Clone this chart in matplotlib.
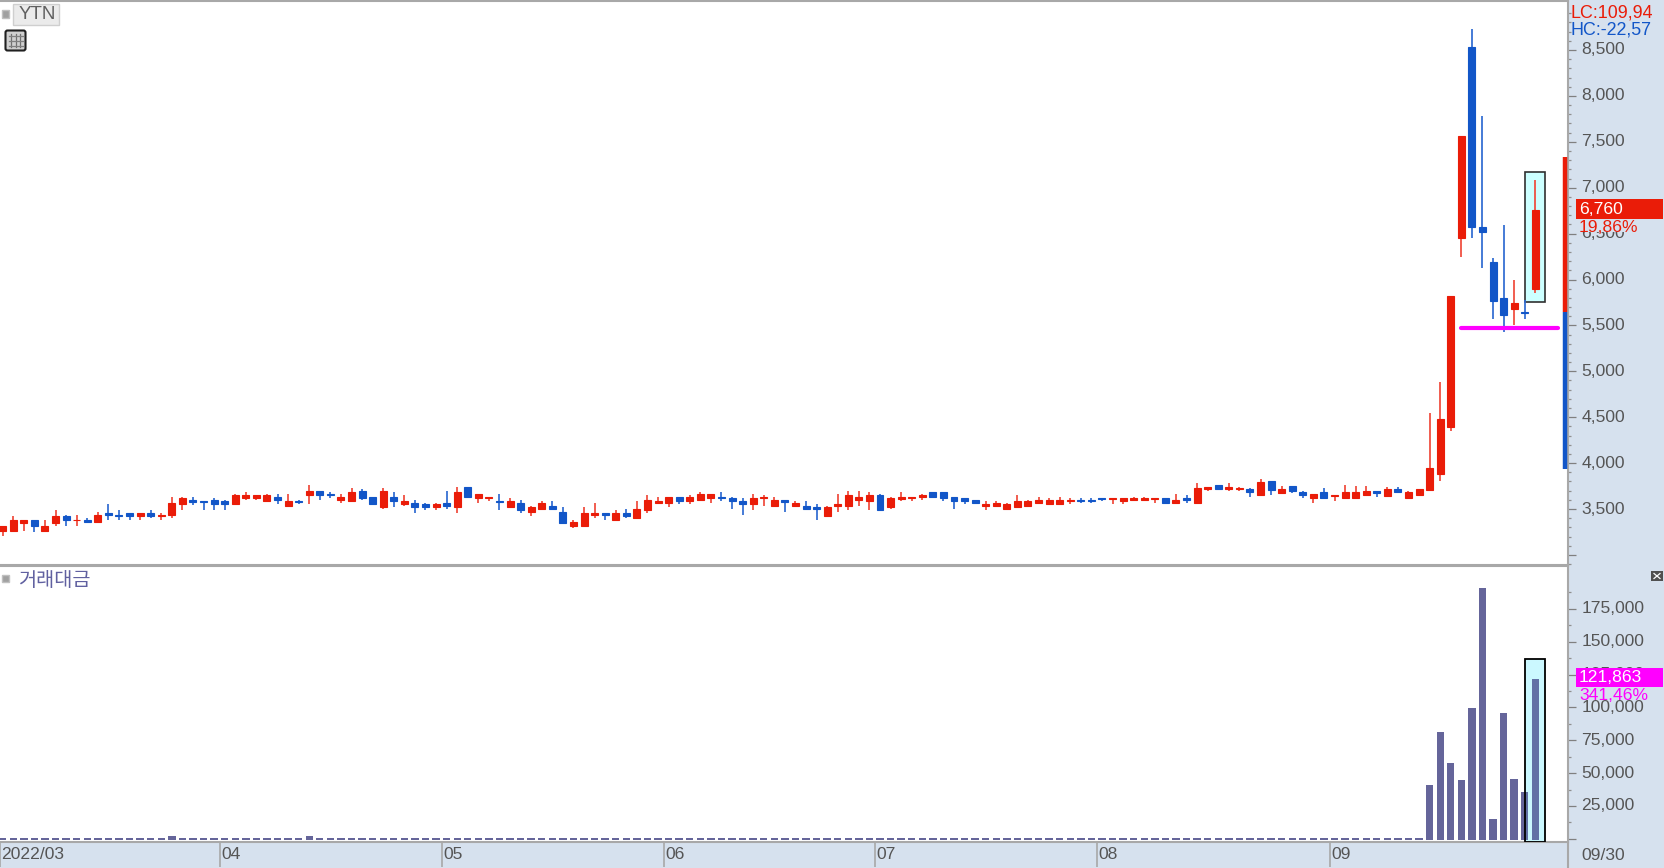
import matplotlib
matplotlib.use("Agg")
import matplotlib.pyplot as plt
from matplotlib.patches import Rectangle, FancyBboxPatch
from matplotlib.transforms import ScaledTranslation

plt.rcParams['font.family'] = ['Liberation Sans', 'Noto Sans CJK KR', 'DejaVu Sans']

title = "YTN"
volume_title = "거래대금"
direction = ("RRRBRRBRBR" "BBBRBRRRBB" "BBRRRRBRBR" "BBRRBBRBRB" "BRBRBRRBRB"
             "RRBBRRRBRB" "RRRRBRRRBB" "BRRRBRBBRR" "RRRBRRRRBB" "BBBRRRRRRR"
             "RRBBBRRRRR" "BRBRRBRRBR" "BRBBRBRRRR" "BRBRRRRRRB" "BBBRBR")
high = [3320,3420,3385,3385,3385,3485,3440,3440,3405,3465,
        3550,3485,3455,3455,3485,3455,3635,3635,3635,3585,
        3615,3600,3665,3680,3650,3665,3665,3665,3600,3765,
        3700,3680,3665,3730,3715,3635,3730,3680,3650,3600,
        3570,3570,3700,3745,3745,3665,3635,3665,3615,3600,
        3535,3585,3585,3520,3385,3520,3570,3455,3485,3505,
        3585,3650,3635,3635,3635,3650,3680,3665,3680,3635,
        3615,3665,3650,3635,3600,3585,3585,3550,3535,3665,
        3700,3700,3680,3665,3635,3680,3635,3665,3680,3680,
        3635,3615,3600,3585,3585,3570,3650,3600,3635,3615,
        3635,3615,3615,3615,3615,3615,3615,3635,3635,3615,
        3615,3665,3650,3780,3745,3765,3780,3745,3730,3830,
        3800,3750,3750,3700,3665,3730,3650,3765,3750,3750,
        3700,3745,3745,3700,3715,4550,4885,5825,7560,8730,
        7785,6230,6590,6000,5775,7085]
body_top = [3310,3385,3375,3385,3320,3420,3420,3385,3385,3440,
            3455,3440,3455,3455,3455,3440,3565,3615,3600,3585,
            3600,3585,3650,3650,3650,3650,3635,3585,3585,3700,
            3700,3665,3635,3680,3700,3635,3700,3635,3585,3570,
            3550,3550,3570,3680,3745,3665,3635,3585,3585,3570,
            3520,3570,3535,3470,3355,3455,3455,3455,3455,3455,
            3505,3600,3585,3635,3635,3635,3665,3665,3635,3615,
            3585,3615,3635,3600,3600,3570,3535,3520,3520,3550,
            3650,3635,3650,3650,3615,3635,3635,3650,3680,3680,
            3635,3615,3600,3550,3570,3550,3585,3585,3600,3600,
            3600,3600,3600,3600,3615,3615,3615,3615,3615,3615,
            3615,3600,3615,3730,3745,3765,3745,3730,3715,3795,
            3800,3715,3750,3685,3665,3680,3650,3680,3680,3700,
            3700,3715,3715,3680,3715,3945,4485,5825,7560,8535,
            6575,6195,5800,5740,5650,6760]
body_bottom = [3260,3260,3345,3310,3260,3345,3375,3375,3360,3360,
               3440,3425,3420,3425,3420,3425,3440,3555,3575,3575,
               3555,3555,3555,3615,3615,3585,3600,3535,3575,3650,
               3650,3650,3600,3585,3615,3555,3520,3585,3555,3520,
               3520,3520,3535,3520,3635,3615,3615,3575,3520,3490,
               3470,3505,3505,3345,3310,3310,3440,3440,3385,3420,
               3405,3490,3570,3570,3585,3585,3600,3615,3615,3585,
               3555,3555,3615,3535,3575,3535,3505,3495,3420,3535,
               3535,3600,3585,3485,3520,3610,3615,3635,3635,3615,
               3585,3585,3570,3535,3535,3505,3520,3535,3570,3550,
               3550,3585,3585,3585,3605,3605,3585,3600,3600,3605,
               3570,3570,3600,3570,3715,3715,3715,3715,3680,3650,
               3705,3670,3700,3650,3620,3620,3640,3620,3620,3650,
               3670,3640,3685,3620,3650,3705,3885,4395,6450,6575,
               6515,5765,5615,5680,5640,5895]
low = [3205,3260,3260,3245,3260,3320,3320,3320,3360,3360,
       3375,3385,3385,3385,3405,3385,3405,3485,3540,3485,
       3485,3485,3555,3600,3600,3585,3550,3535,3550,3550,
       3600,3615,3570,3585,3600,3555,3505,3520,3535,3455,
       3485,3485,3505,3455,3615,3570,3585,3485,3520,3455,
       3420,3485,3485,3345,3290,3310,3405,3385,3385,3405,
       3405,3455,3555,3520,3550,3555,3585,3570,3585,3505,
       3440,3485,3535,3535,3470,3520,3505,3385,3420,3470,
       3485,3535,3485,3485,3505,3585,3585,3600,3615,3585,
       3505,3550,3550,3485,3535,3485,3520,3535,3550,3550,
       3550,3550,3570,3570,3585,3550,3550,3585,3585,3570,
       3570,3550,3570,3570,3700,3715,3700,3700,3635,3650,
       3650,3670,3670,3615,3570,3620,3585,3620,3620,3650,
       3635,3640,3670,3620,3650,3705,3800,4355,6250,6450,
       6120,5565,5430,5505,5565,5855]
volume = [700,700,700,700,700,700,700,700,700,700,
          700,700,700,700,700,700,2200,700,700,700,
          700,700,700,700,700,700,700,700,700,2200,
          700,700,700,700,700,700,700,700,700,700,
          700,700,700,700,700,700,700,700,700,700,
          700,700,700,700,700,700,700,700,700,700,
          700,700,700,700,700,700,700,700,700,700,
          700,700,700,700,700,700,700,700,700,700,
          700,700,700,700,700,700,700,700,700,700,
          700,700,700,700,700,700,700,700,700,700,
          700,700,700,700,700,700,700,700,700,700,
          700,700,700,700,700,700,700,700,700,700,
          700,700,700,700,700,700,700,700,700,700,
          700,700,700,700,700,41000,81000,58000,44500,99300,
          190600,14900,96000,45800,35690,121863]

month_index = [-0.255, 20.55, 41.55, 62.55, 82.55, 103.55, 125.55]
month_labels = ["2022/03", "04", "05", "06", "07", "08", "09"]
price_ticks = [3000, 3500, 4000, 4500, 5000, 5500, 6000, 6500, 7000, 7500, 8000, 8500]
price_labels = ["", "3,500", "4,000", "4,500", "5,000", "5,500", "6,000", "6,500",
                "7,000", "7,500", "8,000", "8,500"]
volume_ticks = [0, 25000, 50000, 75000, 100000, 125000, 150000, 175000]
volume_labels = ["", "25,000", "50,000", "75,000", "100,000", "125,000", "150,000", "175,000"]
support_level = 5475
limit_up, limit_down, prev_close = 7330, 3935, 5650
box_price = (5760, 7175)
box_volume_top = 136640

RED, BLUE = "#EA1C08", "#1256C8"
WICK_RED, WICK_BLUE = "#EF4A3A", "#2F6BD2"
BG = "#D6E1EE"
GREY = "#A8A8A8"
TXT = "#555555"
VOLC = "#65659A"
MAG = "#FF00FF"
CYAN = "#CCFFFF"

W, H = 1664, 868
fig = plt.figure(figsize=(W / 100, H / 100), dpi=100, facecolor=BG)

def axes_px(x0, y0, x1, y1, **kw):
    return fig.add_axes([x0 / W, 1 - y1 / H, (x1 - x0) / W, (y1 - y0) / H], **kw)

ax = axes_px(0, 1, 1568, 565)
av = axes_px(0, 566, 1568, 842)
idx = list(range(len(high)))
xlim = (-0.255, 148.09)

for a in (ax, av):
    a.set_facecolor("white")
    a.set_xlim(*xlim)
    a.yaxis.tick_right()
    a.spines["left"].set_visible(False)
    for s in ("top", "bottom", "right"):
        a.spines[s].set_color(GREY)
        a.spines[s].set_linewidth(1.5)
    a.tick_params(axis='y', which='major', length=5.8, width=0.9, color="#808080",
                  labelsize=12.6, labelcolor=TXT, pad=4)
    a.tick_params(axis='y', which='minor', length=2.3, width=0.9, color="#909090")

# Price panel
ax.set_ylim(3500 - 56 / 0.0918, 3500 + 508 / 0.0918)
ax.set_yticks(price_ticks, labels=price_labels)
ax.set_yticks([t for t in range(2900, 9100, 100) if t % 500], minor=True)
ax.set_xticks([])

bx = 144
ax.add_patch(Rectangle((bx, box_price[0]), 1.9, box_price[1] - box_price[0],
                       facecolor=CYAN, edgecolor="#303030", linewidth=1.2, zorder=1))

for i, h, t, b, l, d in zip(idx, high, body_top, body_bottom, low, direction):
    body = RED if d == "R" else BLUE
    wick = WICK_RED if d == "R" else WICK_BLUE
    ax.vlines(i, l, h, color=wick, linewidth=1.25, zorder=2)
    ax.bar(i, t - b, bottom=b, width=0.66, color=body, edgecolor=body, linewidth=0.8, zorder=3)

ax.plot([137.94, 147.17], [support_level, support_level], color=MAG, linewidth=3.0,
        solid_capstyle='round', zorder=5)
side = ax.get_yaxis_transform()
ax.plot([0.9979, 0.9979], [prev_close, limit_up], color=RED, linewidth=3.2,
        solid_capstyle='butt', transform=side, zorder=4)
ax.plot([0.9979, 0.9979], [limit_down, prev_close], color=BLUE, linewidth=3.2,
        solid_capstyle='butt', transform=side, zorder=4)

# Volume panel
vmin = 25000 - 36 / 32.85 * 25000
vmax = 25000 + 240 / 32.85 * 25000
av.set_ylim(vmin, vmax)
av.set_yticks(volume_ticks, labels=volume_labels)
av.set_yticks([t for t in range(12500, 200000, 25000)], minor=True)
av.add_patch(Rectangle((bx, vmin), 1.9, box_volume_top - vmin, facecolor="#DDFFFF",
                       edgecolor="none", zorder=1))
av.bar(idx, [v - vmin * 0.4 for v in volume], bottom=vmin * 0.4, width=0.7, color=VOLC, linewidth=0, zorder=2)
av.add_patch(Rectangle((bx, vmin), 1.9, box_volume_top - vmin, facecolor=(0.3, 0.8, 1.0, 0.12),
                       edgecolor="black", linewidth=1.3, zorder=3))

av.set_xticks(month_index, labels=month_labels)
av.tick_params(axis='x', length=18, width=1.2, color=GREY, labelsize=12.6, labelcolor=TXT, pad=-14.5)
offset = ScaledTranslation(1.5 / 100, 0, fig.dpi_scale_trans)
for lab in av.get_xticklabels():
    lab.set_ha('left')
    lab.set_transform(lab.get_transform() + offset)
lift = ScaledTranslation(0, 1.5 / 100, fig.dpi_scale_trans)
for a in (ax, av):
    for lab in a.get_yticklabels():
        lab.set_ha('left')
        lab.set_transform(lab.get_transform() + lift)

# Overlay in pixel coordinates
ov = fig.add_axes([0, 0, 1, 1], facecolor="none", zorder=10)
ov.set_xlim(0, W)
ov.set_ylim(H, 0)
ov.axis("off")

def txt(x, y, s, color=TXT, size=12.6, **kw):
    return ov.text(x, y, s, color=color, fontsize=size, ha='left', va='center', **kw)

# top-left widgets
ov.add_patch(Rectangle((2, 10), 7, 7.5, facecolor="#A0A0A0", edgecolor="#C0C0C0", linewidth=1))
ov.add_patch(Rectangle((13, 3.5), 46, 21.5, facecolor="#EBEBEB", edgecolor="#CFCFCF", linewidth=1))
txt(19, 14.5, title, size=13.5, color="#606060")
ov.add_patch(FancyBboxPatch((5.5, 30.5), 20, 20, boxstyle="round,pad=0,rounding_size=2",
                            facecolor="#D0D0D0", edgecolor="#202020", linewidth=1.5))
for gx in (11, 15.5, 20):
    ov.plot([gx, gx], [34, 47], color="#707070", linewidth=0.9)
for gy in (36, 41, 46):
    ov.plot([8.5, 22.5], [gy, gy], color="#808080", linewidth=0.9)
ov.add_patch(Rectangle((2, 574.5), 7, 7.5, facecolor="#A0A0A0", edgecolor="#C0C0C0", linewidth=1))
txt(18, 580, volume_title, size=14.2, color="#6060A0")

# Right-hand readouts
txt(1570.5, 12.5, "LC:109,94", color=RED, size=12.9)
txt(1570.5, 30, "HC:-22,57", color=BLUE, size=12.9)
ov.add_patch(Rectangle((1576, 199.3), 87, 19.7, facecolor=RED, edgecolor="none", zorder=3))
txt(1579, 209.5, "6,760", color="white", zorder=4)
ov.add_patch(Rectangle((1576, 219), 87, 12.5, facecolor=BG, edgecolor="none", zorder=2))
txt(1579, 228, "19,86%", color=RED, zorder=4)
ov.add_patch(Rectangle((1576, 667.7), 87, 19.6, facecolor=MAG, edgecolor="none", zorder=3))
txt(1579, 677.5, "121,863", color="white", zorder=4)
ov.add_patch(Rectangle((1576, 687.3), 87, 12.5, facecolor=BG, edgecolor="none", zorder=2))
txt(1579, 696, "341,46%", color=MAG, zorder=4)
txt(1581.7, 855.5, "09/30")
ov.plot([1568, 1568], [843, 868], color=GREY, linewidth=1.5)

# Close icon of the lower panel
ov.add_patch(Rectangle((1651, 571), 11.7, 9.7, facecolor="#505050", edgecolor="none"))
ov.plot([1654, 1660], [573.5, 578.5], color="white", linewidth=0.9)
ov.plot([1654, 1660], [578.5, 573.5], color="white", linewidth=0.9)

fig.savefig("out.png", dpi=100, facecolor=BG)
